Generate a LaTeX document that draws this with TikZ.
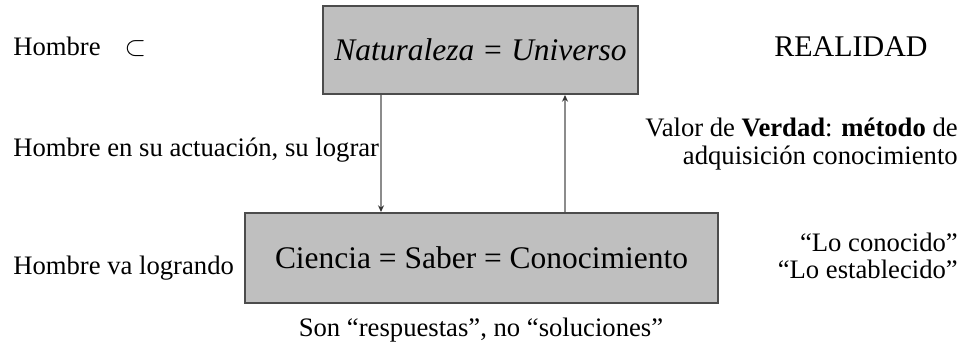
\documentclass[tikz,border=0pt]{standalone}
\usepackage{fontspec}
\setmainfont{Liberation Serif}
\usetikzlibrary{arrows.meta}
\tikzset{
    caja/.style={
        draw=black!70, line width=1.5pt, fill=black!25,
        minimum width=#1, minimum height=66pt, inner sep=0pt,
        font=\fontsize{23.6}{28}\selectfont
    },
    caja/.default=236pt,
    texto/.style={inner sep=0pt, font=\fontsize{20}{20.5}\selectfont},
    flecha/.style={
        draw=black!45, line width=1.4pt,
        -{Stealth[length=5pt,width=4.5pt,color=black!80]}
    }
}

\begin{document}
\begin{tikzpicture}[x=0.75pt,y=-0.75pt]
		\useasboundingbox (0,0) rectangle (961,352);

		% Boxes
		\node[caja] (nat) at (480.5,50) {\textit{Naturaleza = Universo}};
		\node[caja=355pt, minimum height=67.5pt] (cien) at (481.5,258) {Ciencia = Saber = Conocimiento};

		% Arrows between the boxes
		\coordinate (baja) at (381,0);
		\coordinate (sube) at (565,0);
		\draw[flecha] (nat.south -| baja) -- (cien.north -| baja);
		\draw[flecha] (cien.north -| sube) -- (nat.south -| sube);

		% Left side
		\node[texto, anchor=west] (hombre) at (13,47) {Hombre\hspace{0.9em}$\subset$};
		\node[texto, anchor=west] (actua) at (13,150) {Hombre en su actuación, su lograr};
		\node[texto, anchor=west] (logra) at (13,268) {Hombre va logrando};

		% Right side
		\node[texto, font=\fontsize{22.5}{24}\selectfont] (real) at (851,47) {REALIDAD};
		\node[texto, anchor=east, align=right] (valor) at (958,144) {Valor de \textbf{Verdad}: \textbf{método} de\\adquisición conocimiento};
		\node[texto, anchor=east, align=right] (cono) at (958,256) {“Lo conocido”\\“Lo establecido”};

		% Below
		\node[texto] (resp) at (481,330) {Son “respuestas”, no “soluciones”};

	\end{tikzpicture}
\end{document}
